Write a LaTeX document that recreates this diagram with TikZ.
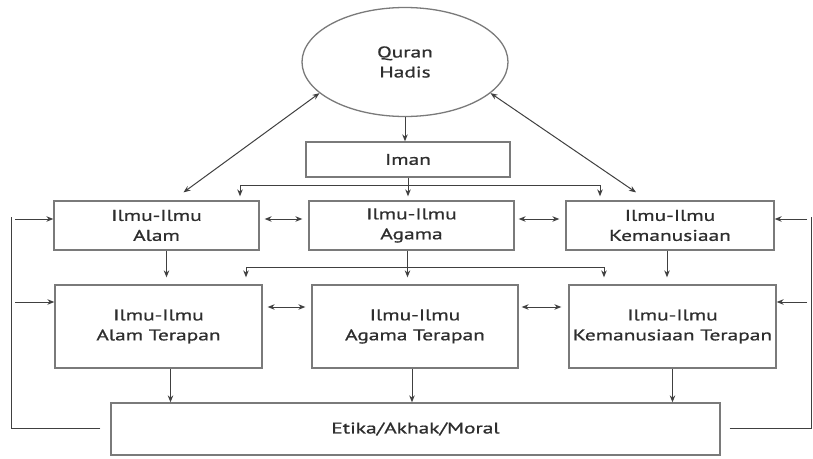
\documentclass[tikz,border=0pt]{standalone}
\usepackage{fontspec}
\setmainfont[FakeStretch=1.38, FakeBold=0.8]{PT Sans}
\usepackage{tikz}
\usetikzlibrary{%
        arrows.meta,
        positioning,
        shapes.geometric}
\definecolor{boxline}{HTML}{7A7A7A}
\definecolor{arrline}{HTML}{404040}
\definecolor{txt}{HTML}{2E2E2E}
\tikzset{%
    box/.style={draw=boxline, line width=1.3pt, rectangle, align=center,
        text=txt, font=\fontsize{15.5}{20}\selectfont, inner sep=0pt},
    source/.style={box, ellipse},
    link/.style={draw=arrline, line width=1pt,
        -{Stealth[length=7pt, width=5.5pt]}},
    both/.style={link, {Stealth[length=7pt, width=5.5pt]}-{Stealth[length=7pt, width=5.5pt]}},
    plain/.style={draw=arrline, line width=1pt}
}

\begin{document}
\begin{tikzpicture}[x=1pt, y=-1pt]

    \useasboundingbox[fill=white] (0, 0) rectangle (813, 458);

    \node[source, minimum width=206pt, minimum height=109pt] (quran)
        at (405, 62) {Quran\\Hadis};
    \node[box, minimum width=204pt, minimum height=35pt] (iman)
        at (408, 159.5) {Iman};

    \node[box, minimum width=205pt, minimum height=49pt] (alam)
        at (156.5, 225.5) {Ilmu-Ilmu\\Alam};
    \node[box, minimum width=205pt, minimum height=49pt] (agama)
        at (411.5, 225.5) {Ilmu-Ilmu\\Agama};
    \node[box, minimum width=208pt, minimum height=49pt] (manusia)
        at (670, 225.5) {Ilmu-Ilmu\\Kemanusiaan};

    \node[box, minimum width=207pt, minimum height=83pt] (alamT)
        at (158.5, 326.5) {Ilmu-Ilmu\\Alam Terapan};
    \node[box, minimum width=206pt, minimum height=83pt] (agamaT)
        at (415, 326.5) {Ilmu-Ilmu\\Agama Terapan};
    \node[box, minimum width=207pt, minimum height=83pt] (manusiaT)
        at (672.5, 326.5) {Ilmu-Ilmu\\Kemanusiaan Terapan};

    \node[box, minimum width=609pt, minimum height=52pt] (etika)
        at (415.5, 429) {Etika/Akhak/Moral};

    % from the source
    \draw[link] (quran.south) -- (quran.south |- iman.north);
    \draw[both] (quran.200) -- ([shift={(27pt, 8pt)}] alam.north);
    \draw[both] (quran.340) -- ([shift={(-34pt, 8pt)}] manusia.north);

    % iman to the first row
    \coordinate (barA) at (240, 185);
    \coordinate (barB) at (600, 185);
    \draw[plain] (barA) -- (barB);
    \draw[link, shorten >=4pt] (iman.south) -- (iman.south |- agama.north);
    \draw[link, shorten >=4pt] (barA) -- (barA |- alam.north);
    \draw[link, shorten >=4pt] (barB) -- (barB |- manusia.north);

    \draw[both, shorten <=5pt, shorten >=6pt] ([yshift=6.5pt] alam.east)
        -- ([yshift=6.5pt] alam.east -| agama.west);
    \draw[both, shorten <=4pt, shorten >=6pt] ([yshift=6.5pt] agama.east)
        -- ([yshift=6.5pt] agama.east -| manusia.west);

    % first row to the second row
    \coordinate (barC) at (246, 267);
    \coordinate (barD) at (604, 267);
    \draw[plain] (barC) -- (barD);
    \draw[link, shorten >=7pt] ([xshift=10pt] alam.south)
        -- ([xshift=10pt] alam.south |- alamT.north);
    \draw[link, shorten >=7pt] ([xshift=-4pt] agama.south)
        -- ([xshift=-4pt] agama.south |- agamaT.north);
    \draw[link, shorten >=7pt] ([xshift=-3pt] manusia.south)
        -- ([xshift=-3pt] manusia.south |- manusiaT.north);
    \draw[link, shorten >=7pt] (barC) -- (barC |- alamT.north);
    \draw[link, shorten >=7pt] (barD) -- (barD |- manusiaT.north);

    \draw[both, shorten <=5pt, shorten >=6pt] ([yshift=19.5pt] alamT.east)
        -- ([yshift=19.5pt] alamT.east -| agamaT.west);
    \draw[both, shorten <=3pt, shorten >=7pt] ([yshift=19.5pt] agamaT.east)
        -- ([yshift=19.5pt] agamaT.east -| manusiaT.west);

    % second row to etika
    \draw[link] ([xshift=12pt] alamT.south)
        -- ([xshift=12pt] alamT.south |- etika.north);
    \draw[link] ([xshift=-3pt] agamaT.south)
        -- ([xshift=-3pt] agamaT.south |- etika.north);
    \draw[link] (manusiaT.south) -- (manusiaT.south |- etika.north);

    % feedback on both sides
    \coordinate (backL) at (11, 428);
    \coordinate (backR) at (811, 428);
    \coordinate (upL) at (11, 217);
    \coordinate (upR) at (811, 217);
    \coordinate (inL1) at (11, 219);
    \coordinate (inL2) at (11, 302);
    \coordinate (inR1) at (811, 219);
    \coordinate (inR2) at (811, 302);
    \draw[plain] ([xshift=-10pt] etika.west |- backL) -- (backL)
        -- (upL);
    \draw[plain] ([xshift=9pt] etika.east |- backR) -- (backR)
        -- (upR);
    \draw[link, shorten <=4pt] (inL1) -- (alam.west |- inL1);
    \draw[link, shorten <=4pt] (inL2) -- (alamT.west |- inL2);
    \draw[link, shorten <=4pt] (inR1) -- (manusia.east |- inR1);
    \draw[link, shorten <=4pt] (inR2) -- (manusiaT.east |- inR2);

\end{tikzpicture}
\end{document}
